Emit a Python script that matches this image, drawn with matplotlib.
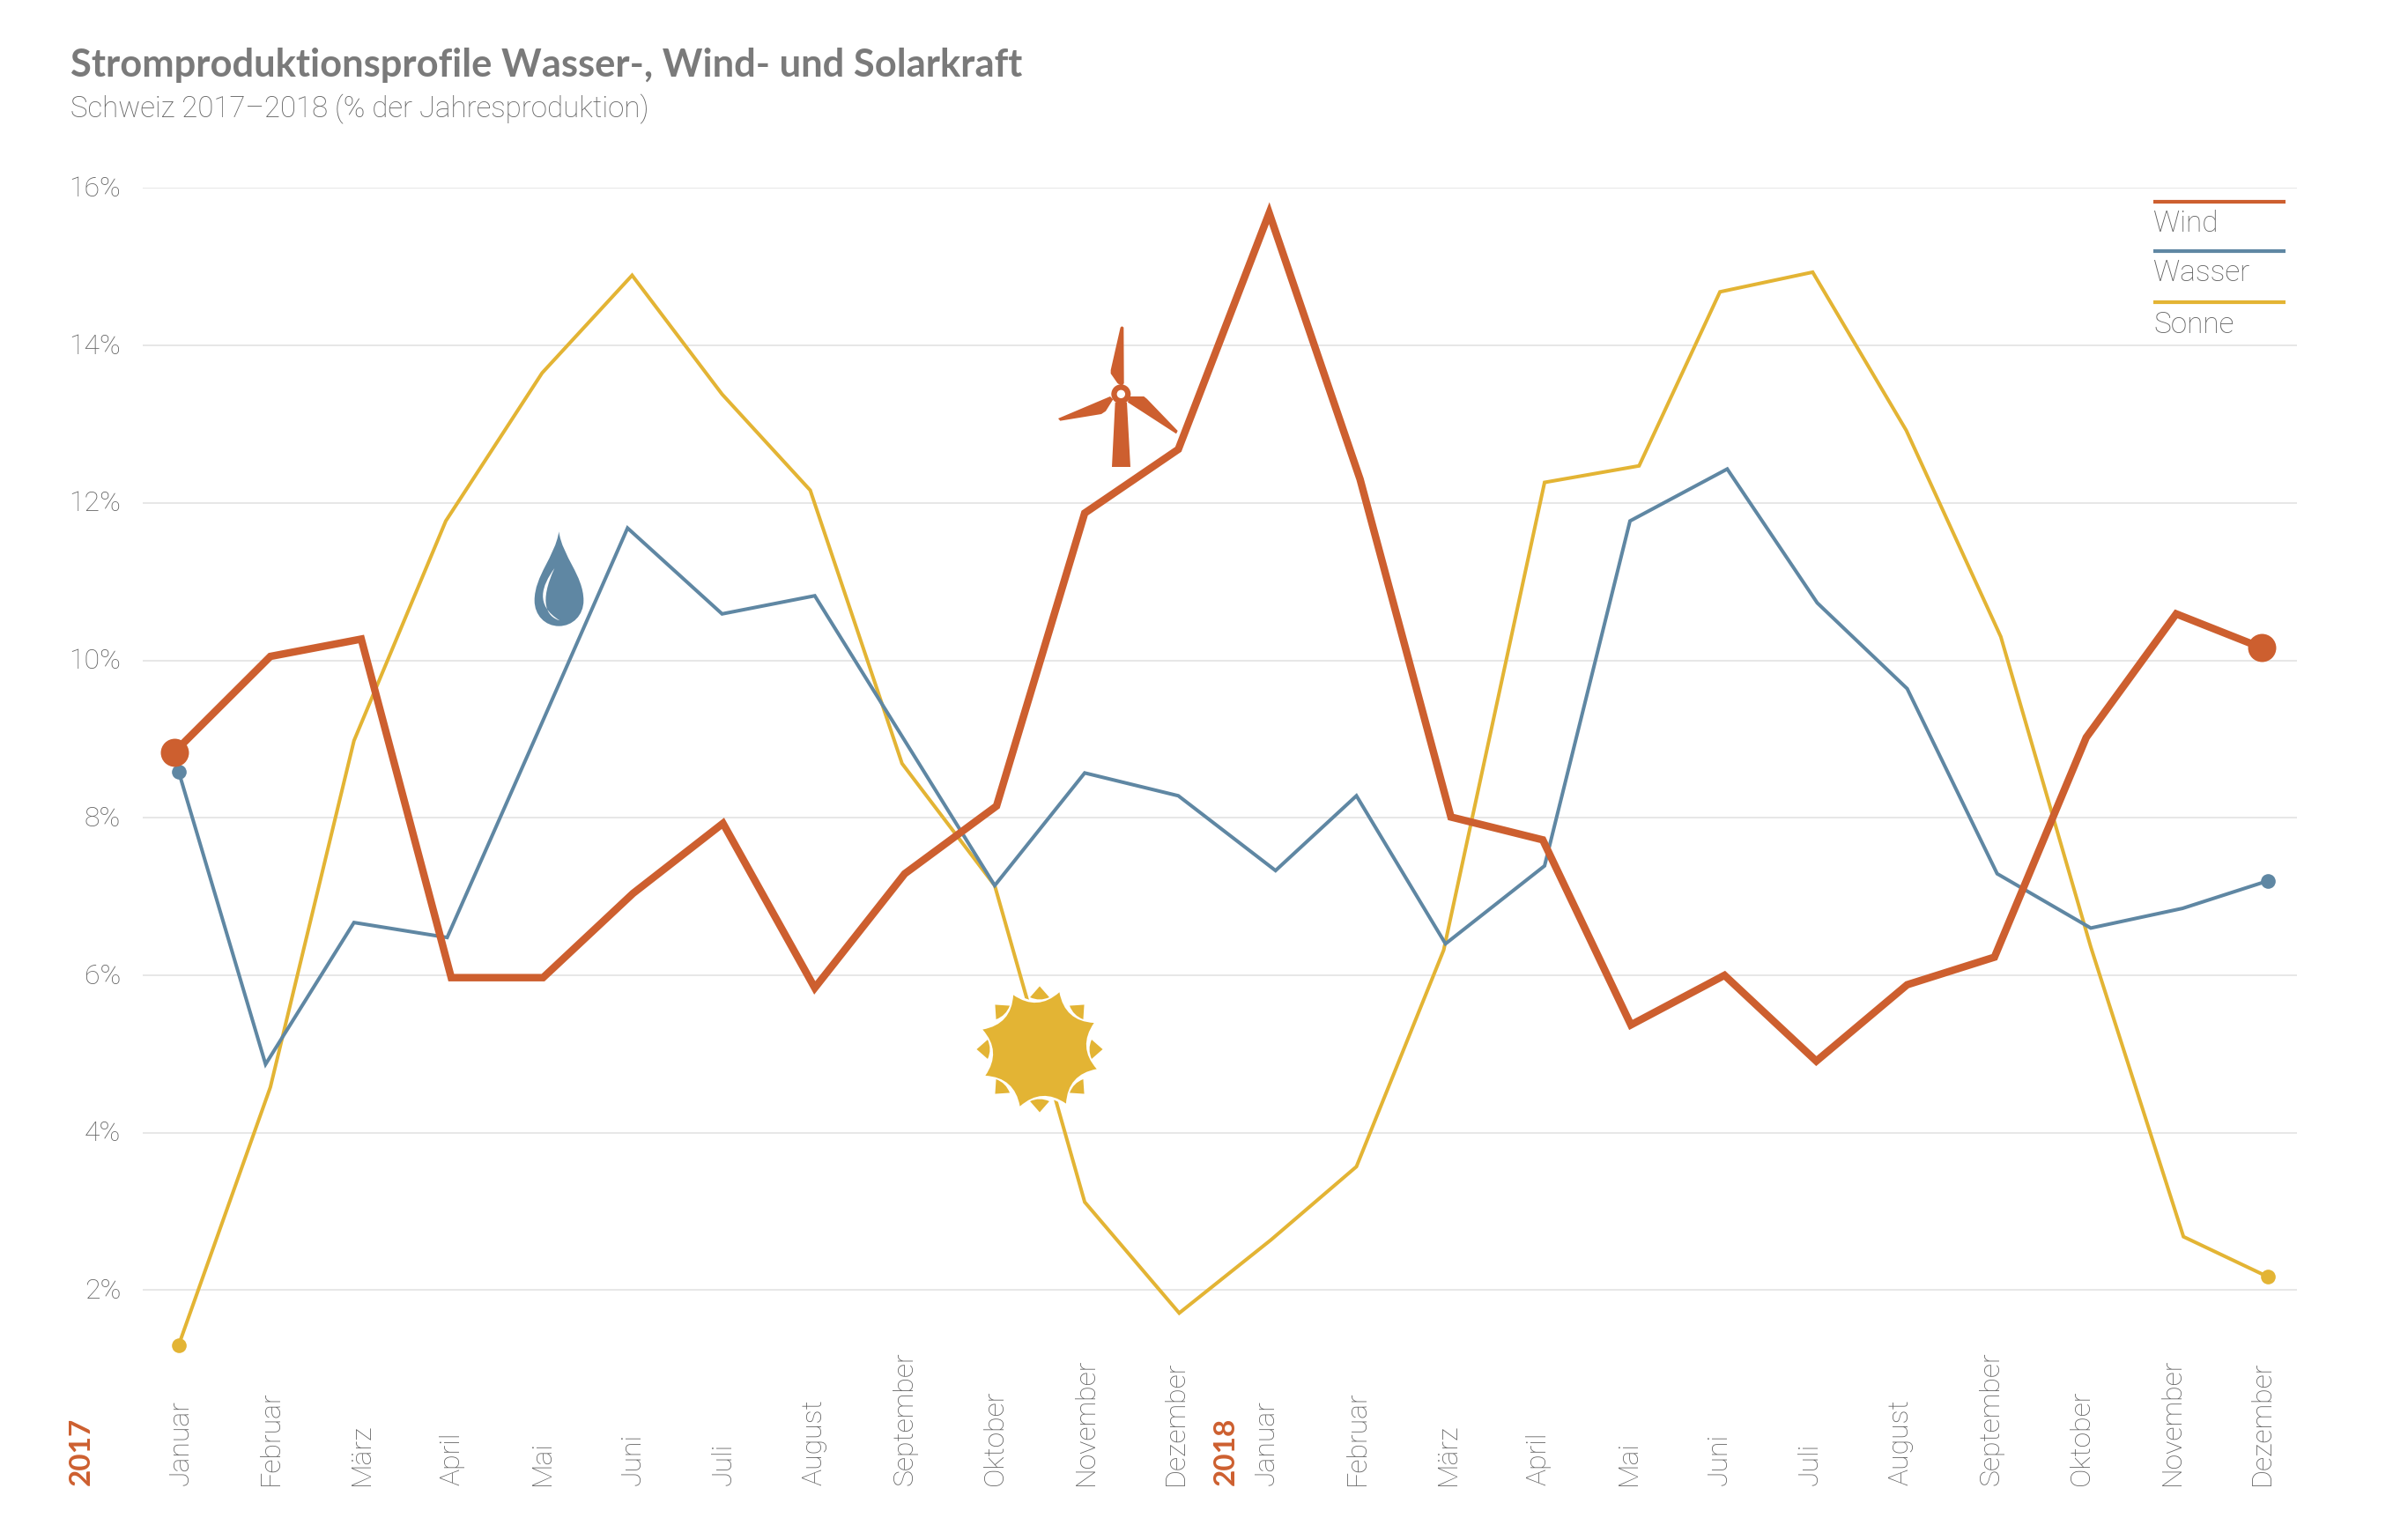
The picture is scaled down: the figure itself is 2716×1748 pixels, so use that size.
import matplotlib
matplotlib.use("Agg")
import matplotlib.pyplot as plt
import numpy as np
from matplotlib.path import Path
from matplotlib.patches import PathPatch, Circle
from matplotlib.transforms import Affine2D, ScaledTranslation

W, H = 2716, 1748
GREY = "#7a7a7a"
GREY_L = "#626262"
C_WIND, C_WASSER, C_SONNE = "#cd5f2f", "#5f87a3", "#e3b434"
FONT = "Lato"
LIGHT = "Roboto"

months = ["Januar", "Februar", "März", "April", "Mai", "Juni", "Juli", "August",
          "September", "Oktober", "November", "Dezember"] * 2

wind_m = [-.05, 1.01, 2.01, 3.0, 4.01, 5, 5.99, 7, 7.99, 9, 9.97, 11, 12, 13, 14, 15.01,
          15.98, 17.01, 18.02, 19.02, 19.98, 20.99, 21.98, 22.92]
wind = [8.83, 10.05, 10.27, 5.97, 5.97, 7.04, 7.93, 5.84, 7.29, 8.15, 11.87, 12.68,
        15.68, 12.30, 8.01, 7.72, 5.37, 6.00, 4.91, 5.88, 6.23, 9.02, 10.59, 10.16]
wasser_m = [0, .957, 1.93, 2.955, 3.95, 4.94, 5.98, 7.0, 7.99, 8.98, 9.97, 11.0, 12.07,
            12.96, 13.94, 15.03, 15.97, 17.04, 18.03, 19.02, 20.01, 21.04, 22.05, 22.99]
wasser = [8.59, 4.87, 6.67, 6.48, 9.08, 11.68, 10.59, 10.82, 8.98, 7.14, 8.57, 8.28,
          7.33, 8.28, 6.40, 7.39, 11.77, 12.43, 10.73, 9.64, 7.29, 6.60, 6.85, 7.20]
sonne_m = [0, 1.01, 1.93, 2.94, 4.0, 4.99, 5.98, 6.95, 7.96, 8.98, 9.97, 11.01, 12.02,
           12.96, 13.92, 15.03, 16.07, 16.96, 17.98, 19.01, 20.05, 21.04, 22.06, 22.99]
sonne = [1.30, 4.58, 8.98, 11.77, 13.65, 14.89, 13.38, 12.16, 8.69, 7.14, 3.12, 1.71,
         2.64, 3.57, 6.32, 12.26, 12.47, 14.68, 14.93, 12.92, 10.30, 6.36, 2.68, 2.17]
y_ticks = [2, 4, 6, 8, 10, 12, 14, 16]

fig = plt.figure(figsize=(W / 100, H / 100), dpi=100, facecolor="white")
X0, X1, Y0, Y1 = 162, 2607, 213.3, 1686
ax = fig.add_axes([X0 / W, 1 - Y1 / H, (X1 - X0) / W, (Y1 - Y0) / H])
PX_M, PX_V = 103.15, 89.37
ax.set_xlim((X0 - 202.7) / PX_M, (X1 - 202.7) / PX_M)
ax.set_ylim(2 - (Y1 - 1464.5) / PX_V, 16)
for s in ax.spines.values():
    s.set_visible(False)

ax.set_yticks(y_ticks)
ax.set_yticklabels([f"{v}%" for v in y_ticks], family=LIGHT, fontsize=23, weight="light", color=GREY_L)
ax.tick_params(axis="y", length=0, pad=18)
ax.yaxis.grid(True, color="#e3e3e3", lw=1.2)
ax.set_axisbelow(True)
up = ScaledTranslation(0, 2 / 100, fig.dpi_scale_trans)
for lab in ax.get_yticklabels():
    lab.set_transform(lab.get_transform() + up)

ax.set_xticks([0.02 + 0.996 * i for i in range(24)])
ax.set_xticklabels(months, family=LIGHT, fontsize=23, weight="light", color=GREY_L, rotation=90, va="bottom", ha="center")
ax.tick_params(axis="x", length=0, pad=0)

ax.plot(sonne_m, sonne, color=C_SONNE, lw=2.9, zorder=3, solid_joinstyle="miter")
ax.plot(wasser_m, wasser, color=C_WASSER, lw=2.9, zorder=4, solid_joinstyle="miter")
ax.plot(wind_m, wind, color=C_WIND, lw=6.1, zorder=5, solid_joinstyle="miter")
ax.plot([sonne_m[0], sonne_m[-1]], [sonne[0], sonne[-1]], "o", color=C_SONNE, ms=12, mew=0, zorder=3)
ax.plot([wasser_m[0], wasser_m[-1]], [wasser[0], wasser[-1]], "o", color=C_WASSER, ms=12, mew=0, zorder=4)
ax.plot([wind_m[0], wind_m[-1]], [wind[0], wind[-1]], "o", color=C_WIND, ms=23, mew=0, zorder=5)

# pixel-based coordinates for titles, legend and icons
PX = Affine2D().scale(1 / W, -1 / H).translate(0, 1) + fig.transFigure

def txt(x, y, s, family=LIGHT, **kw):
    fig.text(x, y, s, transform=PX, family=family, **kw)

txt(80, 87, "Stromproduktionsprofile Wasser-, Wind- und Solarkraft", family=FONT, fontsize=31.3, weight="bold", color=GREY, va="baseline")
txt(80, 133, "Schweiz 2017–2018 (% der Jahresproduktion)", fontsize=23.8, weight="light", color=GREY_L, va="baseline")
txt(92, 1686, "2017", family=FONT, fontsize=24, weight="bold", color=C_WIND, rotation=90, va="bottom", ha="center")
txt(1391, 1686, "2018", family=FONT, fontsize=24, weight="bold", color=C_WIND, rotation=90, va="bottom", ha="center")

# legend
for ly, ty, name, col in [(229, 263, "Wind", C_WIND), (285, 319, "Wasser", C_WASSER), (343, 378, "Sonne", C_SONNE)]:
    ax.plot([2444, 2594], [ly, ly], color=col, lw=3, transform=PX, clip_on=False, solid_capstyle="butt", zorder=6)
    txt(2444, ty, name, fontsize=24, weight="light", color=GREY_L, va="baseline")

def patch(verts, codes, color, **kw):
    p = PathPatch(Path(verts, codes), facecolor=color, transform=PX, clip_on=False, zorder=10, **kw)
    ax.add_patch(p)
    return p

def poly(points):
    v = list(points) + [points[0]]
    c = [Path.MOVETO] + [Path.LINETO] * (len(points) - 1) + [Path.CLOSEPOLY]
    return v, c

# wind turbine (zoom coordinates -> pixels)
def tz(pts):
    return [(1100 + x / 3, 340 + y / 3) for x, y in pts]

for shape in [
    [(497, 350), (537, 350), (549, 570), (486, 570)],
    [(515, 95), (520, 91), (526, 95), (527, 285), (520, 295), (505, 285), (482, 252), (482, 240)],
    [(303, 405), (480, 330), (490, 340), (465, 380), (450, 390), (310, 413)],
    [(540, 350), (545, 330), (595, 330), (605, 338), (710, 447), (705, 457)],
]:
    patch(*poly(tz(shape)), C_WIND, lw=0)
hub = (1100 + 517 / 3, 340 + 322 / 3)
ax.add_patch(Circle(hub, 11, facecolor=C_WIND, lw=0, transform=PX, clip_on=False, zorder=10))
ax.add_patch(Circle(hub, 4.7, facecolor="white", lw=0, transform=PX, clip_on=False, zorder=11))

# sun
cx, cy = 1180, 1191

def pol(r, deg):
    a = np.radians(deg)
    return (cx + r * np.sin(a), cy - r * np.cos(a))

v, c = [], []
for k in range(8):
    a0 = -3.4 - 22.5 + 45 * k
    if k == 0:
        v.append(pol(68.5, a0)); c.append(Path.MOVETO)
    v += [pol(42.7, a0 + 22.5), pol(68.5, a0 + 45)]
    c += [Path.CURVE3, Path.CURVE3]
v.append(v[0]); c.append(Path.CLOSEPOLY)
patch(v, c, "white", edgecolor="white", lw=4)
patch(v, c, C_SONNE, lw=0)
for k in range(8):
    a = 45 * k
    vt = [pol(71.5, a), pol(60, a + 10.5), pol(54, a), pol(60, a - 10.5), pol(71.5, a)]
    ct = [Path.MOVETO, Path.LINETO, Path.CURVE3, Path.CURVE3, Path.CLOSEPOLY]
    patch(vt, ct, C_SONNE, lw=0)

# water drop
def dz(pts):
    return [(580 + x / 3, 590 + y / 3) for x, y in pts]

drop = dz([(163, 40), (175, 125), (247, 190), (247, 275), (247, 325), (210, 362), (163, 362),
           (116, 362), (80, 325), (80, 275), (80, 190), (150, 125), (163, 40), (163, 40)])
patch(drop, [Path.MOVETO] + [Path.CURVE4] * 12 + [Path.CLOSEPOLY], C_WASSER, lw=0)
shine = dz([(148, 165), (105, 225), (80, 290), (166, 343), (120, 330), (95, 280), (148, 165), (148, 165)])
patch(shine, [Path.MOVETO] + [Path.CURVE4] * 6 + [Path.CLOSEPOLY], "white", lw=0).set_zorder(11)

fig.savefig("out.png", dpi=100, facecolor="white")
